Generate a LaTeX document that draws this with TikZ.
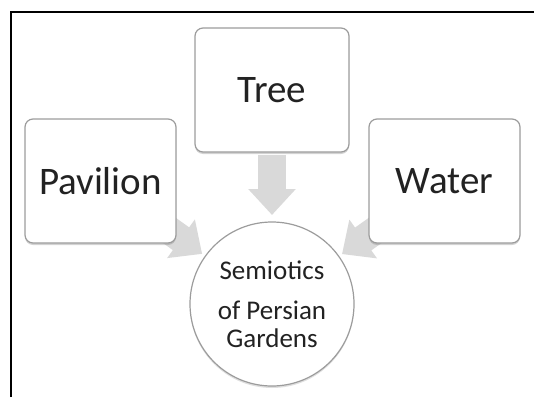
\documentclass[tikz,border=0pt]{standalone}
\usepackage{fontspec}
\setmainfont{Carlito}
\usetikzlibrary{arrows.meta,shadows}

\definecolor{boxline}{HTML}{9C9C9C}
\definecolor{arrowgray}{HTML}{D9D9D9}
\definecolor{inktext}{HTML}{222222}

\tikzset{
  topic/.style={draw=boxline, line width=1.2pt, fill=white, rounded corners=8pt,
    minimum width=151pt, minimum height=124pt, inner sep=0pt,
    text=inktext, font=\fontsize{39}{44}\selectfont,
    drop shadow={shadow xshift=0pt, shadow yshift=-2pt, opacity=.35}},
  hub/.style={draw=boxline, line width=1.2pt, fill=white, circle,
    minimum size=164pt, inner sep=0pt, align=center,
    text=inktext, font=\fontsize{27}{32}\selectfont,
    drop shadow={shadow xshift=0pt, shadow yshift=-2pt, opacity=.25}},
  flow/.style={draw=arrowgray, line width=28pt,
    -{Triangle[length=26pt, width=46pt]}}
}

\begin{document}
\begin{tikzpicture}[x=1pt, y=1pt]
        \useasboundingbox (0,0) rectangle (534,397);

        % frame
        \draw[line width=1.8pt] (11,0) -- (11,385) -- (534,385);

        % anchor points for the arrows
        \coordinate (pv) at (100.5,216);
        \coordinate (tr) at (272,307);
        \coordinate (wt) at (444.5,216);
        \coordinate (sm) at (272,93);

        \path[flow, shorten <=80pt, shorten >=86pt] (pv) -- (sm);
        \path[flow, shorten <=80pt, shorten >=86pt] (wt) -- (sm);
        \path[flow, shorten <=65pt, shorten >=89pt] (tr) -- (sm);

        \node[topic] (pavilion) at (pv) {Pavilion};
        \node[topic, minimum width=154pt] (tree) at (tr) {Tree};
        \node[topic] (water) at (wt) {Water};

        \node[hub] (semiotics) at (sm) {Semiotics\\[8pt] of Persian\\[-4pt] Gardens};
\end{tikzpicture}
\end{document}
